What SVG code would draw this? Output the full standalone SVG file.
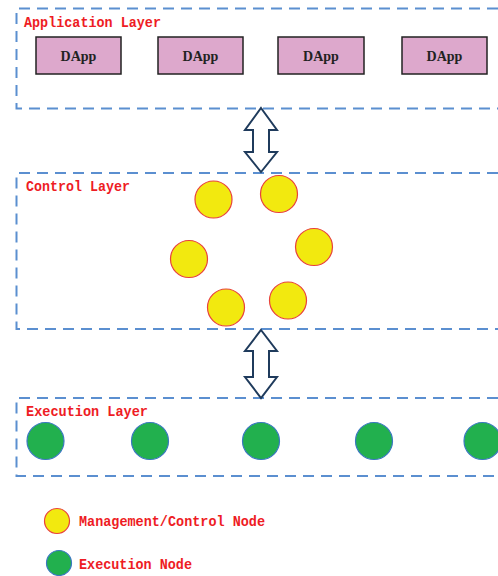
<svg xmlns="http://www.w3.org/2000/svg" width="498" height="576" viewBox="0 0 498 576">
<style>
.layer{fill:none;stroke:#5b8fd0;stroke-width:2;stroke-dasharray:11 7}
.lbl{font-family:"Liberation Mono","Noto Sans CJK SC",monospace;font-weight:bold;font-size:14.5px;fill:#ee1c24}
.dapp rect{fill:#dda8cc;stroke:#222;stroke-width:1.5}
.dapp text{font-family:"Liberation Serif","DejaVu Serif",serif;font-weight:bold;font-size:14px;fill:#222;text-anchor:middle}
.mc{fill:#f2e90f;stroke:#e8413c;stroke-width:1.2}
.ex{fill:#22b04e;stroke:#3a78c0;stroke-width:1.2}
.arr{fill:#fff;stroke:#1f3b5c;stroke-width:2;stroke-linejoin:miter}
</style>
<g id="application-layer">
<path class="layer" d="M498 8.5H16.5V108.5H498"/>
<text class="lbl" x="24" y="27" textLength="137" lengthAdjust="spacingAndGlyphs">Application Layer</text>
</g>
<g id="dapp1" class="dapp"><rect x="36" y="37" width="85" height="37"/><text x="78.5" y="61">DApp</text></g>
<g id="dapp2" class="dapp"><rect x="158" y="37" width="85" height="37"/><text x="200.5" y="61">DApp</text></g>
<g id="dapp3" class="dapp"><rect x="278" y="37" width="86" height="37"/><text x="321" y="61">DApp</text></g>
<g id="dapp4" class="dapp"><rect x="402" y="37" width="85" height="37"/><text x="444.5" y="61">DApp</text></g>
<g id="control-layer">
<path class="layer" d="M498 173H16.5V329H498"/>
<text class="lbl" x="26" y="191" textLength="104" lengthAdjust="spacingAndGlyphs">Control Layer</text>
</g>
<g id="mc1"><circle class="mc" cx="213.5" cy="199.5" r="18.5"/></g>
<g id="mc2"><circle class="mc" cx="279" cy="194" r="18.5"/></g>
<g id="mc3"><circle class="mc" cx="314" cy="247" r="18.5"/></g>
<g id="mc4"><circle class="mc" cx="189" cy="259" r="18.5"/></g>
<g id="mc5"><circle class="mc" cx="226" cy="307.5" r="18.5"/></g>
<g id="mc6"><circle class="mc" cx="288" cy="300.5" r="18.5"/></g>
<g id="execution-layer">
<path class="layer" d="M498 398H16.5V476H498"/>
<text class="lbl" x="26" y="416" textLength="122" lengthAdjust="spacingAndGlyphs">Execution Layer</text>
</g>
<g id="ex1"><circle class="ex" cx="45.5" cy="441" r="18.5"/></g>
<g id="ex2"><circle class="ex" cx="150" cy="441" r="18.5"/></g>
<g id="ex3"><circle class="ex" cx="261" cy="441" r="18.5"/></g>
<g id="ex4"><circle class="ex" cx="374" cy="441" r="18.5"/></g>
<g id="ex5"><circle class="ex" cx="482.5" cy="441" r="18.5"/></g>
<g id="connectors">
<path class="arr" d="M261 108L277 130H269V152H277L261 172L245 152H253V130H245Z"/>
<path class="arr" d="M261 330L277 351H269V377H277L261 398L245 377H253V351H245Z"/>
</g>
<g id="legend">
<circle class="mc" cx="57" cy="521" r="12.5"/>
<text class="lbl" x="79" y="526" textLength="186" lengthAdjust="spacingAndGlyphs">Management/Control Node</text>
<circle class="ex" cx="59" cy="563" r="12.5"/>
<text class="lbl" x="79" y="569" textLength="113" lengthAdjust="spacingAndGlyphs">Execution Node</text>
</g>
</svg>
